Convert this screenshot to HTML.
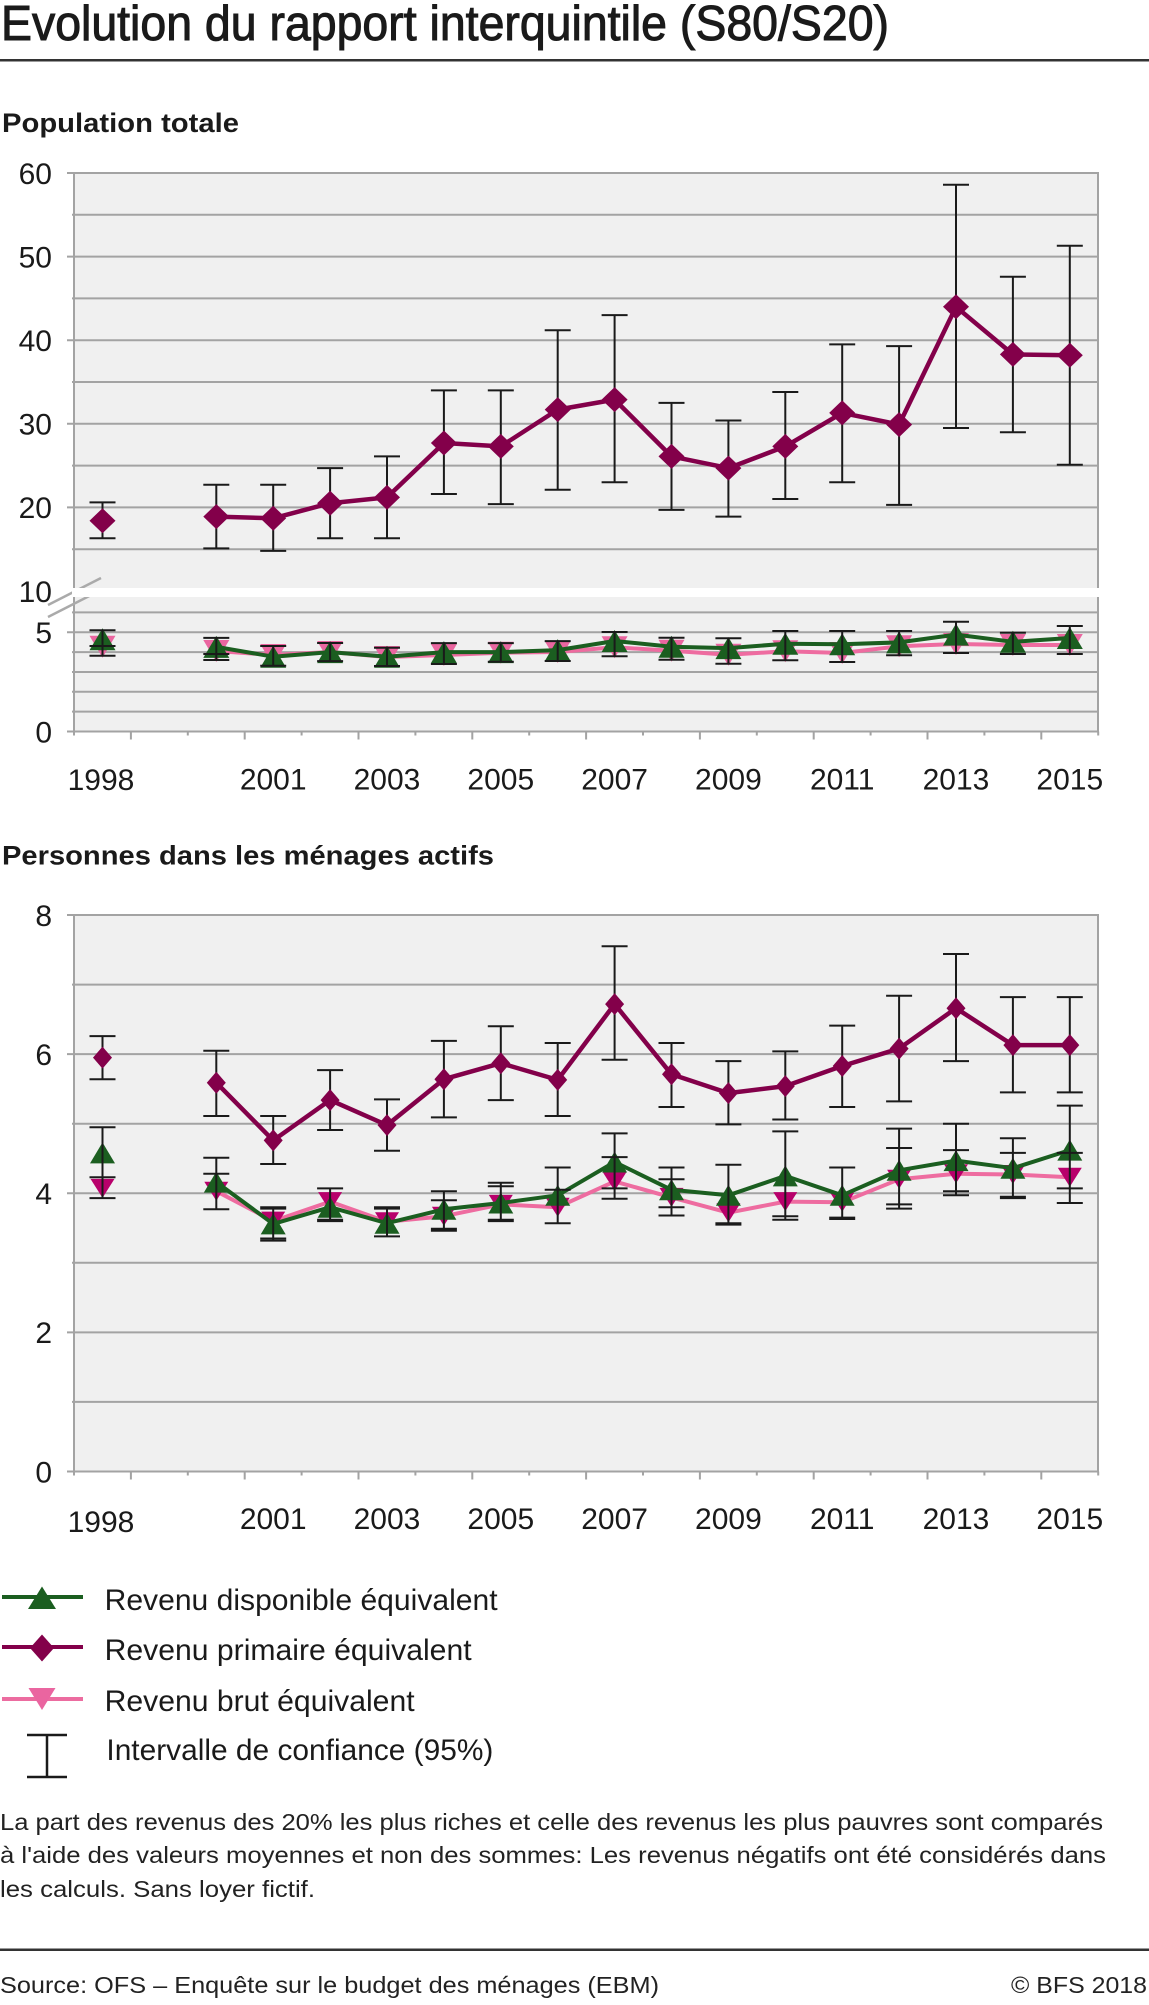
<!DOCTYPE html>
<html><head><meta charset="utf-8"><style>
html,body{margin:0;padding:0;background:#fff;}
svg{display:block;font-family:"Liberation Sans",Arial,sans-serif;}
</style></head><body>
<svg width="1149" height="2005" viewBox="0 0 1149 2005" xmlns="http://www.w3.org/2000/svg">
<!-- Title -->
<text x="1" y="40" font-size="49" fill="#1a1a1a" stroke="#1a1a1a" stroke-width="1" textLength="888" lengthAdjust="spacingAndGlyphs">Evolution du rapport interquintile (S80/S20)</text>
<rect x="0" y="59" width="1149" height="2.5" fill="#333"/>

<!-- ============ TOP CHART ============ -->
<text x="2" y="132" font-size="27" font-weight="bold" fill="#1a1a1a" textLength="237" lengthAdjust="spacingAndGlyphs">Population totale</text>
<rect x="74" y="173" width="1024" height="558.5" fill="#f0f0f0"/>
<g stroke="#a3a3a3" stroke-width="2" fill="none">
<path d="M72 549.2H1098M72 465.6H1098M72 382H1098M72 298.4H1098M72 214.8H1098"/>
<path d="M67 507.4H1098M67 423.8H1098M67 340.2H1098M67 256.6H1098M67 173H1098"/>
<path d="M72 711.65H1098M72 691.8H1098M72 671.95H1098M72 652.1H1098M72 612.4H1098"/>
<path d="M67 632.25H1098M67 731.5H1098"/>
<path d="M74 172V732M1098 172V732"/>
<path d="M74 731.5v4M130.9 731.5v8M187.8 731.5v4M244.7 731.5v8M301.6 731.5v4M358.5 731.5v8M415.4 731.5v4M472.3 731.5v8M529.2 731.5v4M586.1 731.5v8M643 731.5v4M699.9 731.5v8M756.8 731.5v4M813.7 731.5v8M870.6 731.5v4M927.5 731.5v8M984.4 731.5v4M1041.3 731.5v8M1098.2 731.5v4"/>
</g>
<!-- break marks -->
<g stroke="#aaaaaa" stroke-width="2.5">
<path d="M48 605L101 578M48 617L101 590"/>
</g>
<rect x="72" y="588" width="1028" height="9" fill="#ffffff"/>

<!-- Y labels top -->
<g font-size="30" fill="#1a1a1a" text-anchor="end">
<text x="52" y="183.8">60</text>
<text x="52" y="267.4">50</text>
<text x="52" y="351">40</text>
<text x="52" y="434.6">30</text>
<text x="52" y="518.2">20</text>
<text x="52" y="601.8">10</text>
<text x="52" y="643">5</text>
<text x="52" y="742.3">0</text>
</g>
<!-- X labels top -->
<g font-size="30" fill="#1a1a1a" text-anchor="middle">
<text x="101" y="790">1998</text>
<text x="273.2" y="789.5">2001</text>
<text x="387" y="789.5">2003</text>
<text x="500.8" y="789.5">2005</text>
<text x="614.6" y="789.5">2007</text>
<text x="728.4" y="789.5">2009</text>
<text x="842.2" y="789.5">2011</text>
<text x="956" y="789.5">2013</text>
<text x="1069.8" y="789.5">2015</text>
</g>

<!-- top lower series: pink -->
<polyline fill="none" stroke="#ee6ca0" stroke-width="4" stroke-linejoin="round" points="216.3,651 273.2,655 330.1,652 387,657 443.9,655 500.8,652.7 557.7,652 614.6,647.3 671.5,650.7 728.4,654.7 785.3,651.3 842.2,653 899.1,646.3 956,644 1012.9,645 1069.8,645"/>
<g fill="#ea66a0">
<path transform="translate(102.5,646.7)" d="M0 11L13-11H-13Z"/>
<path transform="translate(216.3,651)" d="M0 11L13-11H-13Z"/>
<path transform="translate(273.2,655)" d="M0 11L13-11H-13Z"/>
<path transform="translate(330.1,652)" d="M0 11L13-11H-13Z"/>
<path transform="translate(387,657)" d="M0 11L13-11H-13Z"/>
<path transform="translate(443.9,655)" d="M0 11L13-11H-13Z"/>
<path transform="translate(500.8,652.7)" d="M0 11L13-11H-13Z"/>
<path transform="translate(557.7,652)" d="M0 11L13-11H-13Z"/>
<path transform="translate(614.6,647.3)" d="M0 11L13-11H-13Z"/>
<path transform="translate(671.5,650.7)" d="M0 11L13-11H-13Z"/>
<path transform="translate(728.4,654.7)" d="M0 11L13-11H-13Z"/>
<path transform="translate(785.3,651.3)" d="M0 11L13-11H-13Z"/>
<path transform="translate(842.2,653)" d="M0 11L13-11H-13Z"/>
<path transform="translate(899.1,646.3)" d="M0 11L13-11H-13Z"/>
<path transform="translate(956,644)" d="M0 11L13-11H-13Z"/>
<path transform="translate(1012.9,645)" d="M0 11L13-11H-13Z"/>
<path transform="translate(1069.8,645)" d="M0 11L13-11H-13Z"/>
</g>
<!-- green -->
<polyline fill="none" stroke="#1b5e20" stroke-width="4" stroke-linejoin="round" points="216.3,646.9 273.2,656.7 330.1,652.1 387,656.7 443.9,652.1 500.8,652.1 557.7,650.1 614.6,641 671.5,646.7 728.4,648.1 785.3,643.8 842.2,644.2 899.1,642.4 956,634.6 1012.9,641.8 1069.8,638"/>
<g fill="#1b5e20">
<path transform="translate(102.5,639.2)" d="M0-11L13 11H-13Z"/>
<path transform="translate(216.3,646.9)" d="M0-11L13 11H-13Z"/>
<path transform="translate(273.2,656.7)" d="M0-11L13 11H-13Z"/>
<path transform="translate(330.1,652.1)" d="M0-11L13 11H-13Z"/>
<path transform="translate(387,656.7)" d="M0-11L13 11H-13Z"/>
<path transform="translate(443.9,652.1)" d="M0-11L13 11H-13Z"/>
<path transform="translate(500.8,652.1)" d="M0-11L13 11H-13Z"/>
<path transform="translate(557.7,650.1)" d="M0-11L13 11H-13Z"/>
<path transform="translate(614.6,641)" d="M0-11L13 11H-13Z"/>
<path transform="translate(671.5,646.7)" d="M0-11L13 11H-13Z"/>
<path transform="translate(728.4,648.1)" d="M0-11L13 11H-13Z"/>
<path transform="translate(785.3,643.8)" d="M0-11L13 11H-13Z"/>
<path transform="translate(842.2,644.2)" d="M0-11L13 11H-13Z"/>
<path transform="translate(899.1,642.4)" d="M0-11L13 11H-13Z"/>
<path transform="translate(956,634.6)" d="M0-11L13 11H-13Z"/>
<path transform="translate(1012.9,641.8)" d="M0-11L13 11H-13Z"/>
<path transform="translate(1069.8,638)" d="M0-11L13 11H-13Z"/>
</g>
<!-- lower error bars top -->
<g stroke="#1a1a1a" stroke-width="2" fill="none">
<path transform="translate(102.5,0)" d="M0 630.2V655.7M-13 630.2h26M-13 655.7h26M-13 646h26"/>
<path transform="translate(216.3,0)" d="M0 637.9V660M-13 637.9h26M-13 660h26M-13 654h26"/>
<path transform="translate(273.2,0)" d="M0 646V665.7M-13 646h26M-13 665.7h26"/>
<path transform="translate(330.1,0)" d="M0 643V661.1M-13 643h26M-13 661.1h26"/>
<path transform="translate(387,0)" d="M0 647.7V666M-13 647.7h26M-13 666h26"/>
<path transform="translate(443.9,0)" d="M0 643.1V664M-13 643.1h26M-13 664h26"/>
<path transform="translate(500.8,0)" d="M0 643.1V661.7M-13 643.1h26M-13 661.7h26"/>
<path transform="translate(557.7,0)" d="M0 641.1V661M-13 641.1h26M-13 661h26"/>
<path transform="translate(614.6,0)" d="M0 632V656.3M-13 632h26M-13 656.3h26"/>
<path transform="translate(671.5,0)" d="M0 637.7V659.7M-13 637.7h26M-13 659.7h26"/>
<path transform="translate(728.4,0)" d="M0 638.3V663.7M-13 638.3h26M-13 663.7h26"/>
<path transform="translate(785.3,0)" d="M0 631V660.3M-13 631h26M-13 660.3h26"/>
<path transform="translate(842.2,0)" d="M0 631V662M-13 631h26M-13 662h26"/>
<path transform="translate(899.1,0)" d="M0 631V655.3M-13 631h26M-13 655.3h26"/>
<path transform="translate(956,0)" d="M0 621.7V653M-13 621.7h26M-13 653h26"/>
<path transform="translate(1012.9,0)" d="M0 632.7V654M-13 632.7h26M-13 654h26"/>
<path transform="translate(1069.8,0)" d="M0 626V654M-13 626h26M-13 654h26"/>
</g>

<!-- primary top -->
<g stroke="#1a1a1a" stroke-width="2" fill="none">
<path transform="translate(102.5,0)" d="M0 538.3V502.4M-13 538.3h26M-13 502.4h26"/>
<path transform="translate(216.3,0)" d="M0 548.4V484.8M-13 548.4h26M-13 484.8h26"/>
<path transform="translate(273.2,0)" d="M0 550.9V484.8M-13 550.9h26M-13 484.8h26"/>
<path transform="translate(330.1,0)" d="M0 538.3V468.1M-13 538.3h26M-13 468.1h26"/>
<path transform="translate(387,0)" d="M0 538.3V456.4M-13 538.3h26M-13 456.4h26"/>
<path transform="translate(443.9,0)" d="M0 494V390.4M-13 494h26M-13 390.4h26"/>
<path transform="translate(500.8,0)" d="M0 504.1V390.4M-13 504.1h26M-13 390.4h26"/>
<path transform="translate(557.7,0)" d="M0 489.8V330.2M-13 489.8h26M-13 330.2h26"/>
<path transform="translate(614.6,0)" d="M0 482.3V315.1M-13 482.3h26M-13 315.1h26"/>
<path transform="translate(671.5,0)" d="M0 509.9V402.9M-13 509.9h26M-13 402.9h26"/>
<path transform="translate(728.4,0)" d="M0 516.6V420.5M-13 516.6h26M-13 420.5h26"/>
<path transform="translate(785.3,0)" d="M0 499V392M-13 499h26M-13 392h26"/>
<path transform="translate(842.2,0)" d="M0 482.3V344.4M-13 482.3h26M-13 344.4h26"/>
<path transform="translate(899.1,0)" d="M0 504.9V346.1M-13 504.9h26M-13 346.1h26"/>
<path transform="translate(956,0)" d="M0 428V184.7M-13 428h26M-13 184.7h26"/>
<path transform="translate(1012.9,0)" d="M0 432.2V276.7M-13 432.2h26M-13 276.7h26"/>
<path transform="translate(1069.8,0)" d="M0 464.8V245.7M-13 464.8h26M-13 245.7h26"/>
</g>
<polyline fill="none" stroke="#83004a" stroke-width="4.5" stroke-linejoin="round" points="216.3,516.6 273.2,518.3 330.1,503.2 387,497.4 443.9,443 500.8,446.4 557.7,409.6 614.6,399.6 671.5,456.4 728.4,468.1 785.3,446.4 842.2,412.9 899.1,424.6 956,306.8 1012.9,354.4 1069.8,355.2"/>
<g fill="#83004a">
<path transform="translate(102.5,520.8)" d="M0-12.5L13 0 0 12.5-13 0Z"/>
<path transform="translate(216.3,516.6)" d="M0-12.5L13 0 0 12.5-13 0Z"/>
<path transform="translate(273.2,518.3)" d="M0-12.5L13 0 0 12.5-13 0Z"/>
<path transform="translate(330.1,503.2)" d="M0-12.5L13 0 0 12.5-13 0Z"/>
<path transform="translate(387,497.4)" d="M0-12.5L13 0 0 12.5-13 0Z"/>
<path transform="translate(443.9,443)" d="M0-12.5L13 0 0 12.5-13 0Z"/>
<path transform="translate(500.8,446.4)" d="M0-12.5L13 0 0 12.5-13 0Z"/>
<path transform="translate(557.7,409.6)" d="M0-12.5L13 0 0 12.5-13 0Z"/>
<path transform="translate(614.6,399.6)" d="M0-12.5L13 0 0 12.5-13 0Z"/>
<path transform="translate(671.5,456.4)" d="M0-12.5L13 0 0 12.5-13 0Z"/>
<path transform="translate(728.4,468.1)" d="M0-12.5L13 0 0 12.5-13 0Z"/>
<path transform="translate(785.3,446.4)" d="M0-12.5L13 0 0 12.5-13 0Z"/>
<path transform="translate(842.2,412.9)" d="M0-12.5L13 0 0 12.5-13 0Z"/>
<path transform="translate(899.1,424.6)" d="M0-12.5L13 0 0 12.5-13 0Z"/>
<path transform="translate(956,306.8)" d="M0-12.5L13 0 0 12.5-13 0Z"/>
<path transform="translate(1012.9,354.4)" d="M0-12.5L13 0 0 12.5-13 0Z"/>
<path transform="translate(1069.8,355.2)" d="M0-12.5L13 0 0 12.5-13 0Z"/>
</g>

<!-- ============ BOTTOM CHART ============ -->
<text x="2" y="864.5" font-size="27" font-weight="bold" fill="#1a1a1a" textLength="492" lengthAdjust="spacingAndGlyphs">Personnes dans les ménages actifs</text>
<rect x="74" y="915" width="1024" height="556.5" fill="#f0f0f0"/>
<g stroke="#a3a3a3" stroke-width="2" fill="none">
<path d="M72 1401.9H1098M72 1262.8H1098M72 1123.7H1098M72 984.6H1098"/>
<path d="M67 1332.4H1098M67 1193.3H1098M67 1054.1H1098M67 915H1098M67 1471.5H1098"/>
<path d="M74 914V1472M1098 914V1472"/>
<path d="M74 1471.5v4M130.9 1471.5v8M187.8 1471.5v4M244.7 1471.5v8M301.6 1471.5v4M358.5 1471.5v8M415.4 1471.5v4M472.3 1471.5v8M529.2 1471.5v4M586.1 1471.5v8M643 1471.5v4M699.9 1471.5v8M756.8 1471.5v4M813.7 1471.5v8M870.6 1471.5v4M927.5 1471.5v8M984.4 1471.5v4M1041.3 1471.5v8M1098.2 1471.5v4"/>
</g>
<g font-size="30" fill="#1a1a1a" text-anchor="end">
<text x="52" y="925.8">8</text>
<text x="52" y="1064.9">6</text>
<text x="52" y="1204.1">4</text>
<text x="52" y="1343.2">2</text>
<text x="52" y="1482.3">0</text>
</g>
<g font-size="30" fill="#1a1a1a" text-anchor="middle">
<text x="101" y="1532">1998</text>
<text x="273.2" y="1529">2001</text>
<text x="387" y="1529">2003</text>
<text x="500.8" y="1529">2005</text>
<text x="614.6" y="1529">2007</text>
<text x="728.4" y="1529">2009</text>
<text x="842.2" y="1529">2011</text>
<text x="956" y="1529">2013</text>
<text x="1069.8" y="1529">2015</text>
</g>

<!-- pink bottom -->
<polyline fill="none" stroke="#ee6ca0" stroke-width="4" stroke-linejoin="round" points="216.3,1191.2 273.2,1221.1 330.1,1201.6 387,1221.8 443.9,1216.2 500.8,1204.4 557.7,1207.2 614.6,1181.4 671.5,1197.4 728.4,1212.7 785.3,1201.6 842.2,1202.3 899.1,1179.3 956,1173.8 1012.9,1174.5 1069.8,1177.3"/>
<g fill="#b8006b">
<path transform="translate(102.5,1188.4)" d="M0 9.5L12-9.5H-12Z"/>
<path transform="translate(216.3,1191.2)" d="M0 9.5L12-9.5H-12Z"/>
<path transform="translate(273.2,1221.1)" d="M0 9.5L12-9.5H-12Z"/>
<path transform="translate(330.1,1201.6)" d="M0 9.5L12-9.5H-12Z"/>
<path transform="translate(387,1221.8)" d="M0 9.5L12-9.5H-12Z"/>
<path transform="translate(443.9,1216.2)" d="M0 9.5L12-9.5H-12Z"/>
<path transform="translate(500.8,1204.4)" d="M0 9.5L12-9.5H-12Z"/>
<path transform="translate(557.7,1207.2)" d="M0 9.5L12-9.5H-12Z"/>
<path transform="translate(614.6,1181.4)" d="M0 9.5L12-9.5H-12Z"/>
<path transform="translate(671.5,1197.4)" d="M0 9.5L12-9.5H-12Z"/>
<path transform="translate(728.4,1212.7)" d="M0 9.5L12-9.5H-12Z"/>
<path transform="translate(785.3,1201.6)" d="M0 9.5L12-9.5H-12Z"/>
<path transform="translate(842.2,1202.3)" d="M0 9.5L12-9.5H-12Z"/>
<path transform="translate(899.1,1179.3)" d="M0 9.5L12-9.5H-12Z"/>
<path transform="translate(956,1173.8)" d="M0 9.5L12-9.5H-12Z"/>
<path transform="translate(1012.9,1174.5)" d="M0 9.5L12-9.5H-12Z"/>
<path transform="translate(1069.8,1177.3)" d="M0 9.5L12-9.5H-12Z"/>
</g>
<!-- green bottom -->
<polyline fill="none" stroke="#1b5e20" stroke-width="4" stroke-linejoin="round" points="216.3,1182.1 273.2,1223.9 330.1,1207.2 387,1223.2 443.9,1209.3 500.8,1203 557.7,1195.3 614.6,1162 671.5,1189.8 728.4,1195.3 785.3,1175.9 842.2,1195.3 899.1,1170.3 956,1160.6 1012.9,1168.2 1069.8,1150.1"/>
<g fill="#1b5e20">
<path transform="translate(102.5,1152.9)" d="M0-10.5L12.5 10.5H-12.5Z"/>
<path transform="translate(216.3,1182.1)" d="M0-10.5L12.5 10.5H-12.5Z"/>
<path transform="translate(273.2,1223.9)" d="M0-10.5L12.5 10.5H-12.5Z"/>
<path transform="translate(330.1,1207.2)" d="M0-10.5L12.5 10.5H-12.5Z"/>
<path transform="translate(387,1223.2)" d="M0-10.5L12.5 10.5H-12.5Z"/>
<path transform="translate(443.9,1209.3)" d="M0-10.5L12.5 10.5H-12.5Z"/>
<path transform="translate(500.8,1203)" d="M0-10.5L12.5 10.5H-12.5Z"/>
<path transform="translate(557.7,1195.3)" d="M0-10.5L12.5 10.5H-12.5Z"/>
<path transform="translate(614.6,1162)" d="M0-10.5L12.5 10.5H-12.5Z"/>
<path transform="translate(671.5,1189.8)" d="M0-10.5L12.5 10.5H-12.5Z"/>
<path transform="translate(728.4,1195.3)" d="M0-10.5L12.5 10.5H-12.5Z"/>
<path transform="translate(785.3,1175.9)" d="M0-10.5L12.5 10.5H-12.5Z"/>
<path transform="translate(842.2,1195.3)" d="M0-10.5L12.5 10.5H-12.5Z"/>
<path transform="translate(899.1,1170.3)" d="M0-10.5L12.5 10.5H-12.5Z"/>
<path transform="translate(956,1160.6)" d="M0-10.5L12.5 10.5H-12.5Z"/>
<path transform="translate(1012.9,1168.2)" d="M0-10.5L12.5 10.5H-12.5Z"/>
<path transform="translate(1069.8,1150.1)" d="M0-10.5L12.5 10.5H-12.5Z"/>
</g>
<!-- error bars bottom: green & pink -->
<g stroke="#1a1a1a" stroke-width="2" fill="none">
<path transform="translate(102.5,0)" d="M0 1127.2V1177.3M-13 1127.2h26M-13 1177.3h26M0 1177.3V1198.1M-13 1198.1h26"/>
<path transform="translate(216.3,0)" d="M0 1157.8V1209.3M-13 1157.8h26M-13 1209.3h26M-13 1173.8h26"/>
<path transform="translate(273.2,0)" d="M0 1207.2V1240.6M-13 1208.6h26M-13 1240.6h26M-13 1238.5h26M-13 1207.2h26"/>
<path transform="translate(330.1,0)" d="M0 1187.7V1221.1M-13 1188.4h26M-13 1221.1h26M-13 1219.7h26"/>
<path transform="translate(387,0)" d="M0 1207.2V1236.4M-13 1207.2h26M-13 1236.4h26M-13 1208.6h26"/>
<path transform="translate(443.9,0)" d="M0 1191.2V1230.8M-13 1191.2h26M-13 1228.7h26M-13 1230.8h26M-13 1200.2h26"/>
<path transform="translate(500.8,0)" d="M0 1182.8V1221.1M-13 1182.8h26M-13 1221.1h26M-13 1186.3h26M-13 1219.7h26"/>
<path transform="translate(557.7,0)" d="M0 1167.5V1223.2M-13 1167.5h26M-13 1223.2h26M-13 1189.8h26"/>
<path transform="translate(614.6,0)" d="M0 1133.4V1198.8M-13 1133.4h26M-13 1188.4h26M-13 1198.8h26M-13 1157.1h26"/>
<path transform="translate(671.5,0)" d="M0 1167.5V1215.5M-13 1167.5h26M-13 1207.2h26M-13 1215.5h26M-13 1179.3h26"/>
<path transform="translate(728.4,0)" d="M0 1164.7V1224.6M-13 1164.7h26M-13 1223.2h26M-13 1224.6h26"/>
<path transform="translate(785.3,0)" d="M0 1131.4V1219.7M-13 1131.4h26M-13 1216.2h26M-13 1219.7h26"/>
<path transform="translate(842.2,0)" d="M0 1167.5V1219M-13 1167.5h26M-13 1217.6h26M-13 1219h26"/>
<path transform="translate(899.1,0)" d="M0 1128.6V1208.6M-13 1128.6h26M-13 1204.4h26M-13 1208.6h26M-13 1148h26"/>
<path transform="translate(956,0)" d="M0 1123.7V1195.3M-13 1123.7h26M-13 1191.2h26M-13 1195.3h26M-13 1150.1h26"/>
<path transform="translate(1012.9,0)" d="M0 1138.3V1198.1M-13 1138.3h26M-13 1196.7h26M-13 1198.1h26M-13 1152.9h26"/>
<path transform="translate(1069.8,0)" d="M0 1105.6V1203M-13 1105.6h26M-13 1188.4h26M-13 1203h26M-13 1152.9h26"/>
</g>
<!-- primary bottom -->
<g stroke="#1a1a1a" stroke-width="2" fill="none">
<path transform="translate(102.5,0)" d="M0 1079.2V1036.1M-13 1079.2h26M-13 1036.1h26"/>
<path transform="translate(216.3,0)" d="M0 1116V1050.7M-13 1116h26M-13 1050.7h26"/>
<path transform="translate(273.2,0)" d="M0 1164V1116M-13 1164h26M-13 1116h26"/>
<path transform="translate(330.1,0)" d="M0 1130V1070.1M-13 1130h26M-13 1070.1h26"/>
<path transform="translate(387,0)" d="M0 1150.8V1099.4M-13 1150.8h26M-13 1099.4h26"/>
<path transform="translate(443.9,0)" d="M0 1117.4V1040.9M-13 1117.4h26M-13 1040.9h26"/>
<path transform="translate(500.8,0)" d="M0 1100.1V1026.3M-13 1100.1h26M-13 1026.3h26"/>
<path transform="translate(557.7,0)" d="M0 1116V1043M-13 1116h26M-13 1043h26"/>
<path transform="translate(614.6,0)" d="M0 1059.7V946.3M-13 1059.7h26M-13 946.3h26"/>
<path transform="translate(671.5,0)" d="M0 1107V1043M-13 1107h26M-13 1043h26"/>
<path transform="translate(728.4,0)" d="M0 1124.4V1061.1M-13 1124.4h26M-13 1061.1h26"/>
<path transform="translate(785.3,0)" d="M0 1119.5V1051.4M-13 1119.5h26M-13 1051.4h26"/>
<path transform="translate(842.2,0)" d="M0 1107V1025.6M-13 1107h26M-13 1025.6h26"/>
<path transform="translate(899.1,0)" d="M0 1101.4V995.7M-13 1101.4h26M-13 995.7h26"/>
<path transform="translate(956,0)" d="M0 1061.1V954M-13 1061.1h26M-13 954h26"/>
<path transform="translate(1012.9,0)" d="M0 1092.4V997.1M-13 1092.4h26M-13 997.1h26"/>
<path transform="translate(1069.8,0)" d="M0 1092.4V997.1M-13 1092.4h26M-13 997.1h26"/>
</g>
<polyline fill="none" stroke="#83004a" stroke-width="4.5" stroke-linejoin="round" points="216.3,1082.7 273.2,1140.4 330.1,1100.1 387,1125.1 443.9,1079.2 500.8,1063.2 557.7,1079.9 614.6,1004.1 671.5,1074.3 728.4,1093.1 785.3,1086.1 842.2,1066 899.1,1048.6 956,1008.2 1012.9,1045.1 1069.8,1045.1"/>
<g fill="#83004a">
<path transform="translate(102.5,1057.6)" d="M0-11L9.5 0 0 11-9.5 0Z"/>
<path transform="translate(216.3,1082.7)" d="M0-11L9.5 0 0 11-9.5 0Z"/>
<path transform="translate(273.2,1140.4)" d="M0-11L9.5 0 0 11-9.5 0Z"/>
<path transform="translate(330.1,1100.1)" d="M0-11L9.5 0 0 11-9.5 0Z"/>
<path transform="translate(387,1125.1)" d="M0-11L9.5 0 0 11-9.5 0Z"/>
<path transform="translate(443.9,1079.2)" d="M0-11L9.5 0 0 11-9.5 0Z"/>
<path transform="translate(500.8,1063.2)" d="M0-11L9.5 0 0 11-9.5 0Z"/>
<path transform="translate(557.7,1079.9)" d="M0-11L9.5 0 0 11-9.5 0Z"/>
<path transform="translate(614.6,1004.1)" d="M0-11L9.5 0 0 11-9.5 0Z"/>
<path transform="translate(671.5,1074.3)" d="M0-11L9.5 0 0 11-9.5 0Z"/>
<path transform="translate(728.4,1093.1)" d="M0-11L9.5 0 0 11-9.5 0Z"/>
<path transform="translate(785.3,1086.1)" d="M0-11L9.5 0 0 11-9.5 0Z"/>
<path transform="translate(842.2,1066)" d="M0-11L9.5 0 0 11-9.5 0Z"/>
<path transform="translate(899.1,1048.6)" d="M0-11L9.5 0 0 11-9.5 0Z"/>
<path transform="translate(956,1008.2)" d="M0-11L9.5 0 0 11-9.5 0Z"/>
<path transform="translate(1012.9,1045.1)" d="M0-11L9.5 0 0 11-9.5 0Z"/>
<path transform="translate(1069.8,1045.1)" d="M0-11L9.5 0 0 11-9.5 0Z"/>
</g>

<!-- ============ LEGEND ============ -->
<path d="M2 1597H83" stroke="#1b5e20" stroke-width="4"/>
<path transform="translate(42,1598)" d="M0-11.5L14 11H-14Z" fill="#1b5e20"/>
<path d="M2 1647H83" stroke="#83004a" stroke-width="4"/>
<path transform="translate(42,1648)" d="M0-13.5L12 0 0 13.5-12 0Z" fill="#83004a"/>
<path d="M2 1699H83" stroke="#ec6ca0" stroke-width="4"/>
<path transform="translate(42,1699)" d="M0 11L13.5-11H-13.5Z" fill="#ea65a0"/>
<path d="M47 1735V1777M27 1735H67M27 1777H67" stroke="#1a1a1a" stroke-width="2.5" fill="none"/>
<g font-size="30" fill="#1a1a1a">
<text x="104.6" y="1610" textLength="393" lengthAdjust="spacingAndGlyphs">Revenu disponible équivalent</text>
<text x="104.6" y="1660" textLength="367" lengthAdjust="spacingAndGlyphs">Revenu primaire équivalent</text>
<text x="104.6" y="1711" textLength="310" lengthAdjust="spacingAndGlyphs">Revenu brut équivalent</text>
<text x="106.4" y="1760" textLength="387" lengthAdjust="spacingAndGlyphs">Intervalle de confiance (95%)</text>
</g>

<!-- ============ FOOTNOTE ============ -->
<g font-size="23" fill="#222">
<text x="0" y="1830" textLength="1103" lengthAdjust="spacingAndGlyphs">La part des revenus des 20% les plus riches et celle des revenus les plus pauvres sont comparés</text>
<text x="0" y="1863" textLength="1106" lengthAdjust="spacingAndGlyphs">à l'aide des valeurs moyennes et non des sommes: Les revenus négatifs ont été considérés dans</text>
<text x="0" y="1897" textLength="315" lengthAdjust="spacingAndGlyphs">les calculs. Sans loyer fictif.</text>
</g>
<rect x="0" y="1948.5" width="1149" height="2.5" fill="#333"/>
<g font-size="23" fill="#222">
<text x="0" y="1993" textLength="659" lengthAdjust="spacingAndGlyphs">Source: OFS – Enquête sur le budget des ménages (EBM)</text>
<text x="1147" y="1993" text-anchor="end" textLength="136" lengthAdjust="spacingAndGlyphs">© BFS 2018</text>
</g>
</svg>
</body></html>
